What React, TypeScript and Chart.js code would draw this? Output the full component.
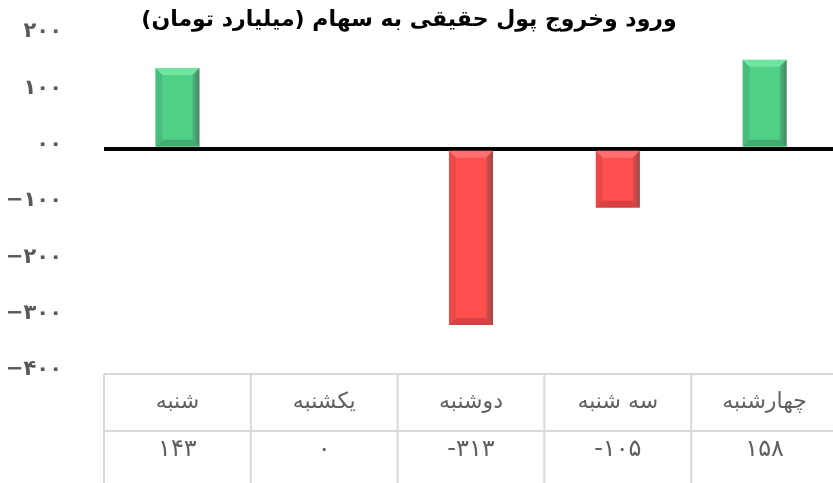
import React, { useEffect, useRef } from "react";
import { Chart, registerables } from "chart.js";

Chart.register(...registerables);

const titleText = "ورود وخروج پول حقیقی به سهام (میلیارد تومان)";
const categories = ["شنبه", "یکشنبه", "دوشنبه", "سه شنبه", "چهارشنبه"];
const values = [143, 0, -313, -105, 158];
const yTickValues = [200, 100, 0, -100, -200, -300, -400];
const yTickLabels = ["۲۰۰", "۱۰۰", "۰۰", "−۱۰۰", "−۲۰۰", "−۳۰۰", "−۴۰۰"];

const FA_DIGITS = ["۰", "۱", "۲", "۳", "۴", "۵", "۶", "۷", "۸", "۹"];
const toFa = (n: number) => String(n).replace(/[0-9]/g, (d) => FA_DIGITS[Number(d)]);

const GREEN = "#50cf87";
const RED = "#ff4f4f";
const FONT = "'DejaVu Sans', sans-serif";

const bevelPlugin = {
  id: "bevel",
  afterDatasetsDraw(chart: any) {
    const ctx = chart.ctx;
    const meta = chart.getDatasetMeta(0);
    meta.data.forEach((bar: any, i: number) => {
      const v = values[i];
      if (v === 0) return;
      const props = bar.getProps(["x", "y", "base", "width"], true);
      const l = props.x - props.width / 2;
      const r = props.x + props.width / 2;
      const t = Math.min(props.y, props.base);
      const b = Math.max(props.y, props.base);
      const s = Math.min(7, (b - t) / 2);
      const pos = v > 0;
      const light = pos ? "rgba(150,255,195,0.45)" : "rgba(255,150,150,0.45)";
      const darkR = "rgba(60,60,60,0.5)";
      const darkL = "rgba(0,0,0,0.08)";
      const darkB = "rgba(0,0,0,0.16)";
      ctx.save();
      const poly = (pts: number[][], fill: string) => {
        ctx.beginPath();
        ctx.moveTo(pts[0][0], pts[0][1]);
        for (let k = 1; k < pts.length; k++) ctx.lineTo(pts[k][0], pts[k][1]);
        ctx.closePath();
        ctx.fillStyle = fill;
        ctx.fill();
      };
      poly([[l, t], [r, t], [r - s, t + s], [l + s, t + s]], light);
      const g = ctx.createLinearGradient(r - s, 0, r, 0);
      g.addColorStop(0, "rgba(60,60,60,0.15)");
      g.addColorStop(1, darkR);
      poly([[r, t], [r, b], [r - s, b - s], [r - s, t + s]], g as any);
      poly([[l, t], [l + s, t + s], [l + s, b - s], [l, b]], darkL);
      poly([[l, b], [l + s, b - s], [r - s, b - s], [r, b]], darkB);
      ctx.restore();
    });
  },
};

const tablePlugin = {
  id: "dataTable",
  afterDraw(chart: any) {
    const ctx = chart.ctx;
    const xs = chart.scales.x;
    const area = chart.chartArea;
    const top = area.bottom;
    const mid = top + 57;
    const bottom = chart.height + 2;
    const n = categories.length;
    const half = (xs.getPixelForValue(1) - xs.getPixelForValue(0)) / 2;
    ctx.save();
    ctx.strokeStyle = "#d9d9d9";
    ctx.lineWidth = 2;
    ctx.beginPath();
    ctx.moveTo(area.left, top);
    ctx.lineTo(chart.width, top);
    ctx.moveTo(area.left, mid);
    ctx.lineTo(chart.width, mid);
    for (let i = 0; i <= n; i++) {
      const x = i === n ? area.right : xs.getPixelForValue(i) - half;
      ctx.moveTo(x, top);
      ctx.lineTo(x, bottom);
    }
    ctx.stroke();
    ctx.fillStyle = "#606060";
    ctx.textAlign = "center";
    ctx.textBaseline = "middle";
    for (let i = 0; i < n; i++) {
      const cx = xs.getPixelForValue(i);
      ctx.font = `22px ${FONT}`;
      ctx.fillText(categories[i], cx, top + 28);
      ctx.font = `24px ${FONT}`;
      ctx.fillText(toFa(values[i]), cx, mid + 19);
    }
    // title
    ctx.fillStyle = "#000";
    ctx.font = `bold 22px ${FONT}`;
    ctx.direction = "rtl";
    ctx.fillText(titleText, 409, 20);
    ctx.restore();
  },
};

export default function App() {
  const ref = useRef<HTMLCanvasElement | null>(null);
  useEffect(() => {
    document.documentElement.style.overflow = "hidden";
    document.body.style.overflow = "hidden";
    const chart = new Chart(ref.current as HTMLCanvasElement, {
      type: "bar",
      data: {
        labels: categories,
        datasets: [
          {
            data: values,
            backgroundColor: values.map((v) => (v >= 0 ? GREEN : RED)),
            borderWidth: 0,
            barPercentage: 0.3,
            categoryPercentage: 1,
          },
        ],
      },
      options: {
        responsive: false,
        animation: false,
        layout: { padding: { top: 36, bottom: 109, left: 0, right: 0 } },
        plugins: {
          legend: { display: false },
          title: { display: false },
          tooltip: { enabled: false },
        },
        scales: {
          x: { display: false, offset: true },
          y: {
            min: -400,
            max: 200,
            afterBuildTicks: (axis: any) => {
              axis.ticks = yTickValues.map((v) => ({ value: v }));
            },
            afterFit: (axis: any) => {
              axis.width = 104;
              axis.paddingTop = 0;
              axis.paddingBottom = 0;
            },
            border: { display: false },
            grid: {
              drawTicks: false,
              color: (c: any) => (c.tick && c.tick.value === 0 ? "#000" : "rgba(0,0,0,0)"),
              lineWidth: (c: any) => (c.tick && c.tick.value === 0 ? 4 : 0),
            },
            ticks: {
              padding: 42,
              labelOffset: -4,
              color: "#595959",
              font: { family: "'DejaVu Sans', sans-serif", size: 21, weight: "bold" },
              callback: (v: any) => {
                const idx = yTickValues.indexOf(Number(v));
                return idx >= 0 ? yTickLabels[idx] : "";
              },
            },
          },
        },
      },
      plugins: [bevelPlugin, tablePlugin],
    });
    return () => chart.destroy();
  }, []);
  return (
    <div style={{ position: "fixed", left: 0, top: 0, width: 838, height: 483, background: "#fff" }}>
      <canvas ref={ref} width={838} height={483} style={{ display: "block", width: 838, height: 483 }} />
    </div>
  );
}
